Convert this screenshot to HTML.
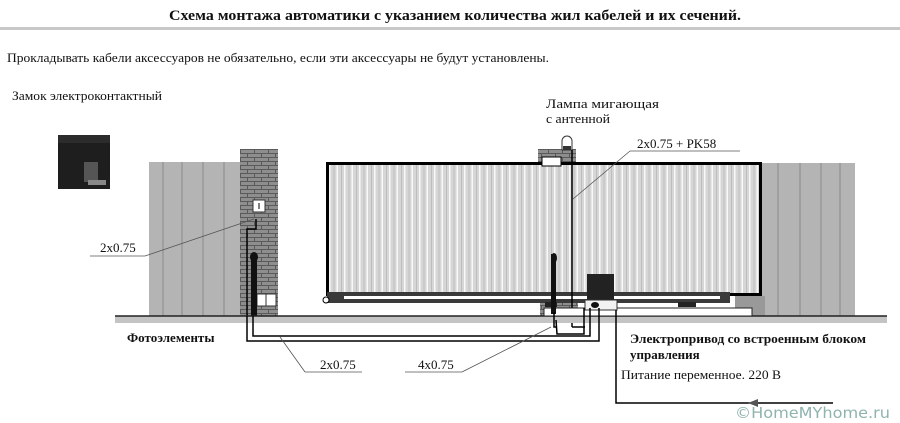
<!DOCTYPE html>
<html><head><meta charset="utf-8"><style>
html,body{margin:0;padding:0;background:#fff;}
svg{display:block;}
text{font-family:"Liberation Serif",serif;fill:#111;}
</style></head><body>
<svg width="900" height="423" viewBox="0 0 900 423" xmlns="http://www.w3.org/2000/svg">
<defs>
<pattern id="gate" x="329" y="0" width="7.5" height="10" patternUnits="userSpaceOnUse">
<rect width="7.5" height="10" fill="#d6d6d6"/>
<rect x="0" width="1.5" height="10" fill="#f8f8f8"/>
<rect x="4.5" width="1" height="10" fill="#bdbdbd"/>
</pattern>
<pattern id="brick" x="240" y="149" width="14" height="8" patternUnits="userSpaceOnUse">
<rect width="14" height="8" fill="#8e8e8e"/>
<rect y="0" width="14" height="1" fill="#5a5a5a"/>
<rect y="4" width="14" height="1" fill="#5a5a5a"/>
<rect x="0" y="0" width="1" height="4" fill="#5a5a5a"/>
<rect x="7" y="4" width="1" height="4" fill="#5a5a5a"/>
</pattern>
</defs>
<text x="455" y="20" text-anchor="middle" font-size="15" font-weight="bold" textLength="572" lengthAdjust="spacingAndGlyphs">Схема монтажа автоматики с указанием количества жил кабелей и их сечений.</text>
<rect x="0" y="27" width="900" height="3" fill="#c8c8c8"/>
<text x="7" y="62" font-size="12.5" textLength="542" lengthAdjust="spacingAndGlyphs">Прокладывать кабели аксессуаров не обязательно, если эти аксессуары не будут установлены.</text>
<text x="12" y="100" font-size="12.5" textLength="150" lengthAdjust="spacingAndGlyphs">Замок электроконтактный</text>
<text x="546" y="108" font-size="12.5" textLength="113" lengthAdjust="spacingAndGlyphs">Лампа мигающая</text>
<text x="546" y="123" font-size="12.5" textLength="64" lengthAdjust="spacingAndGlyphs">с антенной</text>

<!-- lock -->
<rect x="58" y="135" width="52" height="54" fill="#1e1e1e"/>
<rect x="58" y="135" width="52" height="8" fill="#2c2c2c"/>
<rect x="84" y="162" width="14" height="20" fill="#555"/>
<rect x="88" y="180" width="18" height="5" fill="#888"/>

<!-- left fence -->
<rect x="149" y="162" width="91" height="154" fill="#b4b4b4"/>
<g stroke="#8a8a8a" stroke-width="1"><line x1="163" y1="162" x2="163" y2="316"/><line x1="182" y1="162" x2="182" y2="316"/><line x1="203" y1="162" x2="203" y2="316"/><line x1="224" y1="162" x2="224" y2="316"/></g>
<!-- pillar -->
<rect x="240" y="149" width="38" height="167" fill="url(#brick)"/>
<rect x="253" y="200" width="12" height="12" fill="#fff" stroke="#333"/>
<line x1="259" y1="203" x2="259" y2="209" stroke="#000"/>
<rect x="257" y="294" width="19" height="12" fill="#fff" stroke="#333"/>
<line x1="266" y1="294" x2="266" y2="306" stroke="#333"/>
<path d="M256 219 V229 H247 V316" fill="none" stroke="#000" stroke-width="1.5"/>
<rect x="251" y="254" width="6" height="62" fill="#111"/>
<ellipse cx="254" cy="257" rx="4" ry="5" fill="#111"/>

<!-- right fence -->
<rect x="762" y="163" width="93" height="153" fill="#b4b4b4"/>
<g stroke="#8a8a8a"><line x1="778" y1="163" x2="778" y2="316"/><line x1="800" y1="163" x2="800" y2="316"/><line x1="821" y1="163" x2="821" y2="316"/><line x1="840" y1="163" x2="840" y2="316"/></g>
<rect x="735" y="296" width="30" height="20" fill="#999"/>

<!-- lamp pillar -->
<rect x="538" y="149" width="38" height="14" fill="url(#brick)"/>
<rect x="540" y="296" width="38" height="20" fill="url(#brick)"/>
<path d="M562 150 V141 A5 5 0 0 1 572 141 V150 Z" fill="#fff" stroke="#333"/>
<rect x="563" y="146" width="8" height="4" fill="#333"/>

<!-- gate -->
<rect x="327.5" y="163.5" width="433" height="131" fill="url(#gate)" stroke="#000" stroke-width="3"/>
<rect x="542" y="157" width="19" height="9" fill="#fff" stroke="#000"/>
<rect x="327" y="292" width="403" height="11" fill="#3a3a3a"/>
<rect x="344" y="296" width="376" height="3" fill="#fff"/>
<circle cx="326" cy="300" r="3" fill="#fff" stroke="#000"/>
<line x1="572" y1="150" x2="572" y2="327" stroke="#000" stroke-width="1.5"/>

<!-- ground -->
<rect x="115" y="316" width="772" height="7" fill="#c4c4c4"/>
<line x1="115" y1="316" x2="887" y2="316" stroke="#222" stroke-width="1.5"/>
<rect x="544" y="308" width="208" height="8" fill="#fff" stroke="#222"/>
<rect x="545" y="302" width="12" height="5" fill="#222"/>
<rect x="678" y="302" width="18" height="5" fill="#222"/>

<!-- motor -->
<rect x="587" y="274" width="27" height="26" fill="#222"/>
<rect x="585" y="300" width="32" height="10" fill="#f2f2f2" stroke="#333"/>
<ellipse cx="595" cy="305" rx="4" ry="3" fill="#111"/>
<rect x="551" y="254" width="5" height="60" fill="#111"/>
<ellipse cx="554" cy="258" rx="3" ry="5" fill="#111"/>

<!-- cables -->
<g fill="none" stroke="#000" stroke-width="1.5">
<path d="M247 316 V341 H599 V308"/>
<path d="M253 316 V336 H590 V308"/>
<path d="M554 312 V327 H557"/>
<path d="M556 320 L557 334 H584 V308"/>
<path d="M572 327 H585"/>
<path d="M616 310 V403 H833"/>
</g>
<path d="M748 403 L758 399 V407 Z" fill="#555"/>

<!-- labels/leaders -->
<g stroke="#555" stroke-width="0.8" fill="none">
<line x1="90" y1="256" x2="145" y2="256"/><line x1="145" y1="256" x2="254" y2="219"/>
<line x1="305" y1="372" x2="362" y2="372"/><line x1="305" y1="372" x2="280" y2="337"/>
<line x1="405" y1="372" x2="462" y2="372"/><line x1="462" y1="372" x2="551" y2="327"/>
<line x1="630" y1="151" x2="740" y2="151"/><line x1="630" y1="151" x2="573" y2="199"/>
</g>
<text x="100" y="252" font-size="13">2x0.75</text>
<text x="320" y="369" font-size="13">2x0.75</text>
<text x="418" y="369" font-size="13">4x0.75</text>
<text x="637" y="148" font-size="13">2x0.75 + PK58</text>
<text x="127" y="342" font-size="13" font-weight="bold">Фотоэлементы</text>
<text x="630" y="343" font-size="13" font-weight="bold" textLength="236" lengthAdjust="spacingAndGlyphs">Электропривод со встроенным блоком</text>
<text x="630" y="359" font-size="13" font-weight="bold">управления</text>
<text x="621" y="379" font-size="13" textLength="160" lengthAdjust="spacingAndGlyphs">Питание переменное. 220 В</text>
<text x="735" y="418" font-size="15" style="font-family:'DejaVu Sans',sans-serif;fill:#8fb3ad" textLength="155" lengthAdjust="spacingAndGlyphs">©HomeMYhome.ru</text>
</svg>
</body></html>
